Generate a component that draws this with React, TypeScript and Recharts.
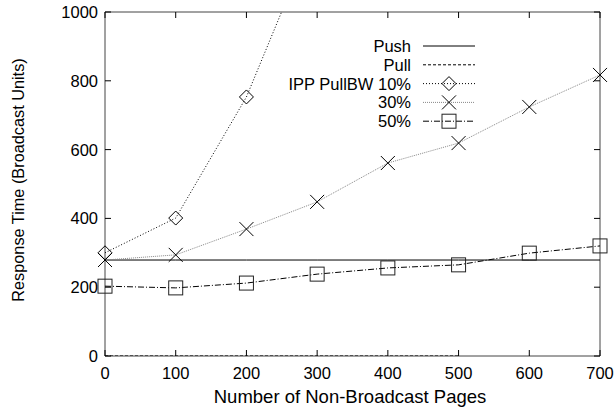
import { Legend, Line, LineChart, ReferenceArea, XAxis, YAxis } from 'recharts'

const pages = [0, 100, 200, 300, 400, 500, 600, 700]
const push = [279, 279, 279, 279, 279, 279, 279, 279]
const pull = [0, 0, 0, 0, 0, 0, null, null]
const ipp10 = [300, 401, 753, 1250, null, null, null, null]
const ipp30 = [279, 294, 369, 448, 561, 619, 724, 817]
const ipp50 = [203, 198, 212, 238, 256, 265, 299, 320]
const yTicks = [0, 200, 400, 600, 800, 1000]
const labels = ['Push', 'Pull', 'IPP PullBW 10%', '30%', '50%']

const data = pages.map((x, i) => ({
  x,
  push: push[i],
  pull: pull[i],
  ipp10: ipp10[i],
  ipp30: ipp30[i],
  ipp50: ipp50[i],
}))

// plot frame, in px
const L = 105
const R = 600
const T = 12
const B = 356
const FONT = "'Liberation Sans', Arial, Helvetica, sans-serif"
const FS = 16.5

type Kind = 'none' | 'diamond' | 'cross' | 'square'

const series: { key: string; stroke: string; dash?: string; marker: Kind }[] = [
  { key: 'push', stroke: '#000', marker: 'none' },
  { key: 'pull', stroke: '#000', dash: '3 2', marker: 'none' },
  { key: 'ipp10', stroke: '#000', dash: '1 2', marker: 'diamond' },
  { key: 'ipp30', stroke: '#888', dash: '1 1', marker: 'cross' },
  { key: 'ipp50', stroke: '#000', dash: '6 2 1 2', marker: 'square' },
]

function Marker({ kind, cx, cy }: { kind: Kind; cx: number; cy: number }) {
  const s = 7
  if (kind === 'diamond')
    return (
      <path
        d={`M${cx},${cy - s} L${cx + s},${cy} L${cx},${cy + s} L${cx - s},${cy} Z`}
        fill='none'
        stroke='#000'
      />
    )
  if (kind === 'cross')
    return (
      <path
        d={`M${cx - s},${cy - s} L${cx + s},${cy + s} M${cx - s},${cy + s} L${cx + s},${cy - s}`}
        stroke='#000'
      />
    )
  if (kind === 'square')
    return <rect x={cx - s} y={cy - s} width={2 * s} height={2 * s} fill='none' stroke='#222' />
  return null
}

function YTick(props: any) {
  const { y, payload } = props
  return (
    <g>
      <line x1={L} x2={L + 6} y1={y} y2={y} stroke='#000' />
      <line x1={R - 6} x2={R} y1={y} y2={y} stroke='#000' />
      <text x={L - 7} y={y + 6} textAnchor='end' fontFamily={FONT} fontSize={FS} fill='#000'>
        {payload.value}
      </text>
    </g>
  )
}

function XTick(props: any) {
  const { x, payload } = props
  return (
    <g>
      <line x1={x} x2={x} y1={B - 6} y2={B} stroke='#000' />
      <line x1={x} x2={x} y1={T} y2={T + 6} stroke='#000' />
      <text x={x} y={B + 23} textAnchor='middle' fontFamily={FONT} fontSize={FS} fill='#000'>
        {payload.value}
      </text>
    </g>
  )
}

function XTitle() {
  return (
    <text x={350} y={403} textAnchor='middle' fontFamily={FONT} fontSize={18.5} fill='#000'>
      Number of Non-Broadcast Pages
    </text>
  )
}

function YTitle() {
  return (
    <text
      x={24}
      y={180}
      transform='rotate(-90 24 180)'
      textAnchor='middle'
      fontFamily={FONT}
      fontSize={16.3}
      fill='#000'
    >
      Response Time (Broadcast Units)
    </text>
  )
}

function LegendBox() {
  return (
    <svg width={240} height={110} style={{ display: 'block' }}>
      {series.map((s, i) => {
        const y = 11 + i * 18.8
        return (
          <g key={s.key}>
            <text x={161} y={y + 6} textAnchor='end' fontFamily={FONT} fontSize={FS} fill='#000'>
              {labels[i]}
            </text>
            <line x1={173} x2={225} y1={y} y2={y} stroke={s.stroke} strokeDasharray={s.dash} />
            <Marker kind={s.marker} cx={199} cy={y} />
          </g>
        )
      })}
    </svg>
  )
}

export default function App() {
  return (
    <div style={{ position: 'absolute', left: 0, top: 0, background: '#fff' }}>
      <LineChart
        width={615}
        height={409}
        data={data}
        margin={{ top: T, right: 615 - R, left: 0, bottom: 0 }}
      >
        <XAxis
          type='number'
          dataKey='x'
          domain={[0, 700]}
          ticks={pages}
          tick={<XTick />}
          tickLine={false}
          axisLine={false}
          height={409 - B}
          label={<XTitle />}
        />
        <YAxis
          type='number'
          domain={[0, 1000]}
          allowDataOverflow
          ticks={yTicks}
          tick={<YTick />}
          tickLine={false}
          axisLine={false}
          width={L}
          label={<YTitle />}
        />
        <ReferenceArea
          x1={0}
          x2={700}
          y1={0}
          y2={1000}
          fill='none'
          fillOpacity={0}
          stroke='#444'
          strokeOpacity={1}
          ifOverflow='visible'
        />
        <Legend
          layout='vertical'
          align='center'
          verticalAlign='middle'
          wrapperStyle={{ left: 250, top: 35, width: 240 }}
          content={() => <LegendBox />}
        />
        {series.map((s) => (
          <Line
            key={s.key}
            dataKey={s.key}
            stroke={s.stroke}
            strokeWidth={1}
            strokeDasharray={s.dash}
            isAnimationActive={false}
            connectNulls={false}
            dot={
              s.marker === 'none'
                ? false
                : (p: any) =>
                    p.cx == null || p.cy == null || p.value == null ? (
                      <g key={p.index} />
                    ) : (
                      <Marker key={p.index} kind={s.marker} cx={p.cx} cy={p.cy} />
                    )
            }
            activeDot={false}
          />
        ))}
      </LineChart>
    </div>
  )
}
